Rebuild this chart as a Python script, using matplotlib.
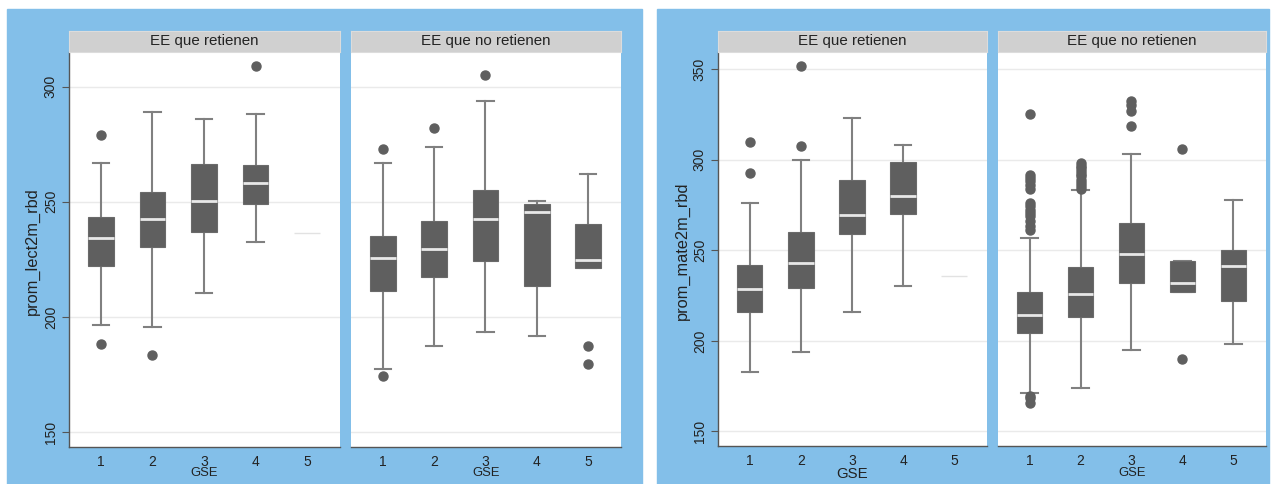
import matplotlib
matplotlib.use("Agg")
import matplotlib.pyplot as plt
from matplotlib.patches import Rectangle

plt.rcParams['font.family'] = ['Liberation Sans', 'DejaVu Sans']

# ---------------- data ----------------
gse = [1, 2, 3, 4, 5]
facet_titles = ["EE que retienen", "EE que no retienen"]

# Lectura (prom_lect2m_rbd)
lect_ret_q1 = [222.2, 230.3, 236.7, 249.1, 236.3]
lect_ret_med = [234.3, 242.4, 250.1, 258.2, 236.3]
lect_ret_q3 = [243.5, 254.0, 266.4, 265.9, 236.3]
lect_ret_lo = [196.4, 195.4, 210.2, 232.3, 236.3]
lect_ret_hi = [267.0, 289.0, 285.9, 287.9, 236.3]
lect_ret_out = [[279.0, 188.3], [183.4], [], [308.8], []]

lect_nor_q1 = [211.4, 217.3, 224.2, 213.4, 221.3]
lect_nor_med = [225.4, 229.3, 242.4, 245.4, 224.8]
lect_nor_q3 = [235.0, 241.5, 255.0, 249.1, 240.2]
lect_nor_lo = [177.5, 187.5, 193.4, 191.5, 221.3]
lect_nor_hi = [267.0, 273.9, 293.8, 250.1, 262.1]
lect_nor_out = [[273.0, 174.3], [282.0], [304.9], [], [187.5, 179.5]]

# Matemática (prom_mate2m_rbd)
mate_ret_q1 = [215.9, 229.2, 258.8, 270.3, 236.0]
mate_ret_med = [228.6, 242.8, 269.3, 280.2, 236.0]
mate_ret_q3 = [241.9, 259.9, 288.9, 298.8, 236.0]
mate_ret_lo = [183.0, 194.0, 216.0, 230.1, 236.0]
mate_ret_hi = [276.0, 299.9, 322.9, 308.0, 236.0]
mate_ret_out = [[310.0, 292.9], [352.0, 307.8], [], [], []]

mate_nor_q1 = [204.1, 213.4, 232.0, 227.0, 222.0]
mate_nor_med = [214.1, 226.1, 248.2, 232.0, 241.5]
mate_nor_q3 = [227.0, 241.0, 264.9, 244.1, 250.0]
mate_nor_lo = [171.2, 174.1, 194.9, 227.0, 198.1]
mate_nor_hi = [257.0, 283.1, 303.0, 244.1, 277.8]
mate_nor_out = [
    [325.1, 291.8, 290.0, 288.1, 286.3, 284.1, 276.2, 274.3, 272.5, 270.6,
     268.8, 266.0, 263.3, 261.0, 169.3, 168.2, 165.7],
    [298.2, 296.8, 295.3, 293.8, 292.4, 290.9, 289.0, 287.2, 285.4, 283.9],
    [332.7, 330.3, 326.8, 318.9],
    [306.0, 190.0],
    [],
]

lect_ticks = [150, 200, 250, 300]
mate_ticks = [150, 200, 250, 300, 350]

# ---------------- layout ----------------
W, H = 1275, 484
fig = plt.figure(figsize=(W / 100, H / 100), dpi=100)
fig.patch.set_facecolor('white')

BLUE = '#83bfe9'
BOXC = '#5f5f5f'
WHC = '#808080'
GRID = '#eaeaea'
AXC = '#555555'


def add_ax(x0, y0, x1, y1):
    return fig.add_axes([x0 / W, 1 - y1 / H, (x1 - x0) / W, (y1 - y0) / H])


fig.add_artist(Rectangle((7 / W, 0), (642 - 7) / W, (H - 9) / H,
                         transform=fig.transFigure, color=BLUE, zorder=0))
fig.add_artist(Rectangle((657 / W, 0), (1269 - 657) / W, (H - 9) / H,
                         transform=fig.transFigure, color=BLUE, zorder=0))


def draw_facet(rect, strip_rect, title, q1, med, q3, lo, hi, out, ylim, ticks,
               first, gse_size, gse_top):
    ax = add_ax(*rect)
    ax.set_facecolor('white')
    stats, pos = [], []
    for i, g in enumerate(gse):
        if q1[i] == q3[i]:
            ax.hlines(med[i], g - 0.25, g + 0.25, color='#e2e2e2', lw=1.0, zorder=3)
            continue
        stats.append(dict(med=med[i], q1=q1[i], q3=q3[i], whislo=lo[i],
                          whishi=hi[i], fliers=out[i]))
        pos.append(g)
    res = ax.bxp(stats, positions=pos, widths=0.5, capwidths=0.32,
                 patch_artist=True,
                 boxprops=dict(facecolor=BOXC, edgecolor='#6a6a6a', lw=0.8),
                 medianprops=dict(color='#e8e8e8', lw=2.0),
                 whiskerprops=dict(color=WHC, lw=1.5),
                 capprops=dict(color=WHC, lw=1.5),
                 flierprops=dict(marker='o', markerfacecolor=BOXC,
                                 markeredgecolor=BOXC, markersize=6.5))
    for b in res['boxes']:
        b.set_zorder(3)
    for m in res['medians']:
        m.set_zorder(4)
    for c in res['caps'] + res['whiskers']:
        c.set_zorder(2)
    ax.set_xlim(0.38, 5.64)
    ax.set_ylim(*ylim)
    ax.set_yticks(ticks)
    ax.yaxis.grid(True, color=GRID, lw=1.0)
    ax.set_axisbelow(True)
    ax.set_xticks(gse)
    ax.set_xticklabels([str(g) for g in gse], fontsize=10, color='#222222')
    ax.tick_params(axis='x', length=0, pad=5.5)
    for s in ['top', 'right']:
        ax.spines[s].set_visible(False)
    ax.spines['bottom'].set_color(AXC)
    ax.spines['bottom'].set_linewidth(1.0)
    if first:
        ax.spines['left'].set_color(AXC)
        ax.spines['left'].set_linewidth(1.0)
        ax.tick_params(axis='y', length=5, color=AXC, pad=3, labelsize=10,
                       labelcolor='#222222')
        for lab in ax.get_yticklabels():
            lab.set_rotation(90)
            lab.set_va('center')
            lab.set_ha('right')
    else:
        ax.spines['left'].set_visible(False)
        ax.tick_params(axis='y', length=0, labelleft=False)
    # strip
    sax = add_ax(*strip_rect)
    sax.set_facecolor('#d0d0d0')
    sax.set_xticks([])
    sax.set_yticks([])
    for s in sax.spines.values():
        s.set_color('#dcdcdc')
        s.set_linewidth(0.8)
    sax.text(0.5, 0.5, title, transform=sax.transAxes, ha='center',
             va='center', fontsize=10.9, color='#222222')
    cx = (rect[0] + rect[2]) / 2
    fig.text(cx / W, 1 - gse_top / H, "GSE", ha='center', va='top',
             fontsize=gse_size, color='#222222')
    return ax


lect_ylim = (143.5, 315.2)
mate_ylim = (141.9, 359.7)

draw_facet((69, 51.5, 340, 447), (69, 31, 340, 51.5), facet_titles[0],
           lect_ret_q1, lect_ret_med, lect_ret_q3, lect_ret_lo, lect_ret_hi,
           lect_ret_out, lect_ylim, lect_ticks, True, 9.4, 467.5)
draw_facet((351, 51.5, 621, 447), (351, 31, 621, 51.5), facet_titles[1],
           lect_nor_q1, lect_nor_med, lect_nor_q3, lect_nor_lo, lect_nor_hi,
           lect_nor_out, lect_ylim, lect_ticks, False, 9.4, 467.5)
draw_facet((718, 51.7, 987, 446), (718, 31, 987, 51.7), facet_titles[0],
           mate_ret_q1, mate_ret_med, mate_ret_q3, mate_ret_lo, mate_ret_hi,
           mate_ret_out, mate_ylim, mate_ticks, True, 10.8, 467)
draw_facet((998, 51.7, 1266, 446), (998, 31, 1266, 51.7), facet_titles[1],
           mate_nor_q1, mate_nor_med, mate_nor_q3, mate_nor_lo, mate_nor_hi,
           mate_nor_out, mate_ylim, mate_ticks, False, 9.4, 467.5)

fig.text(32 / W, 1 - 251 / H, "prom_lect2m_rbd", rotation=90, ha='center',
         va='center', fontsize=11.8, color='#222222')
fig.text(682 / W, 1 - 251 / H, "prom_mate2m_rbd", rotation=90, ha='center',
         va='center', fontsize=11.8, color='#222222')

fig.savefig("out.png", dpi=100, facecolor='white')
